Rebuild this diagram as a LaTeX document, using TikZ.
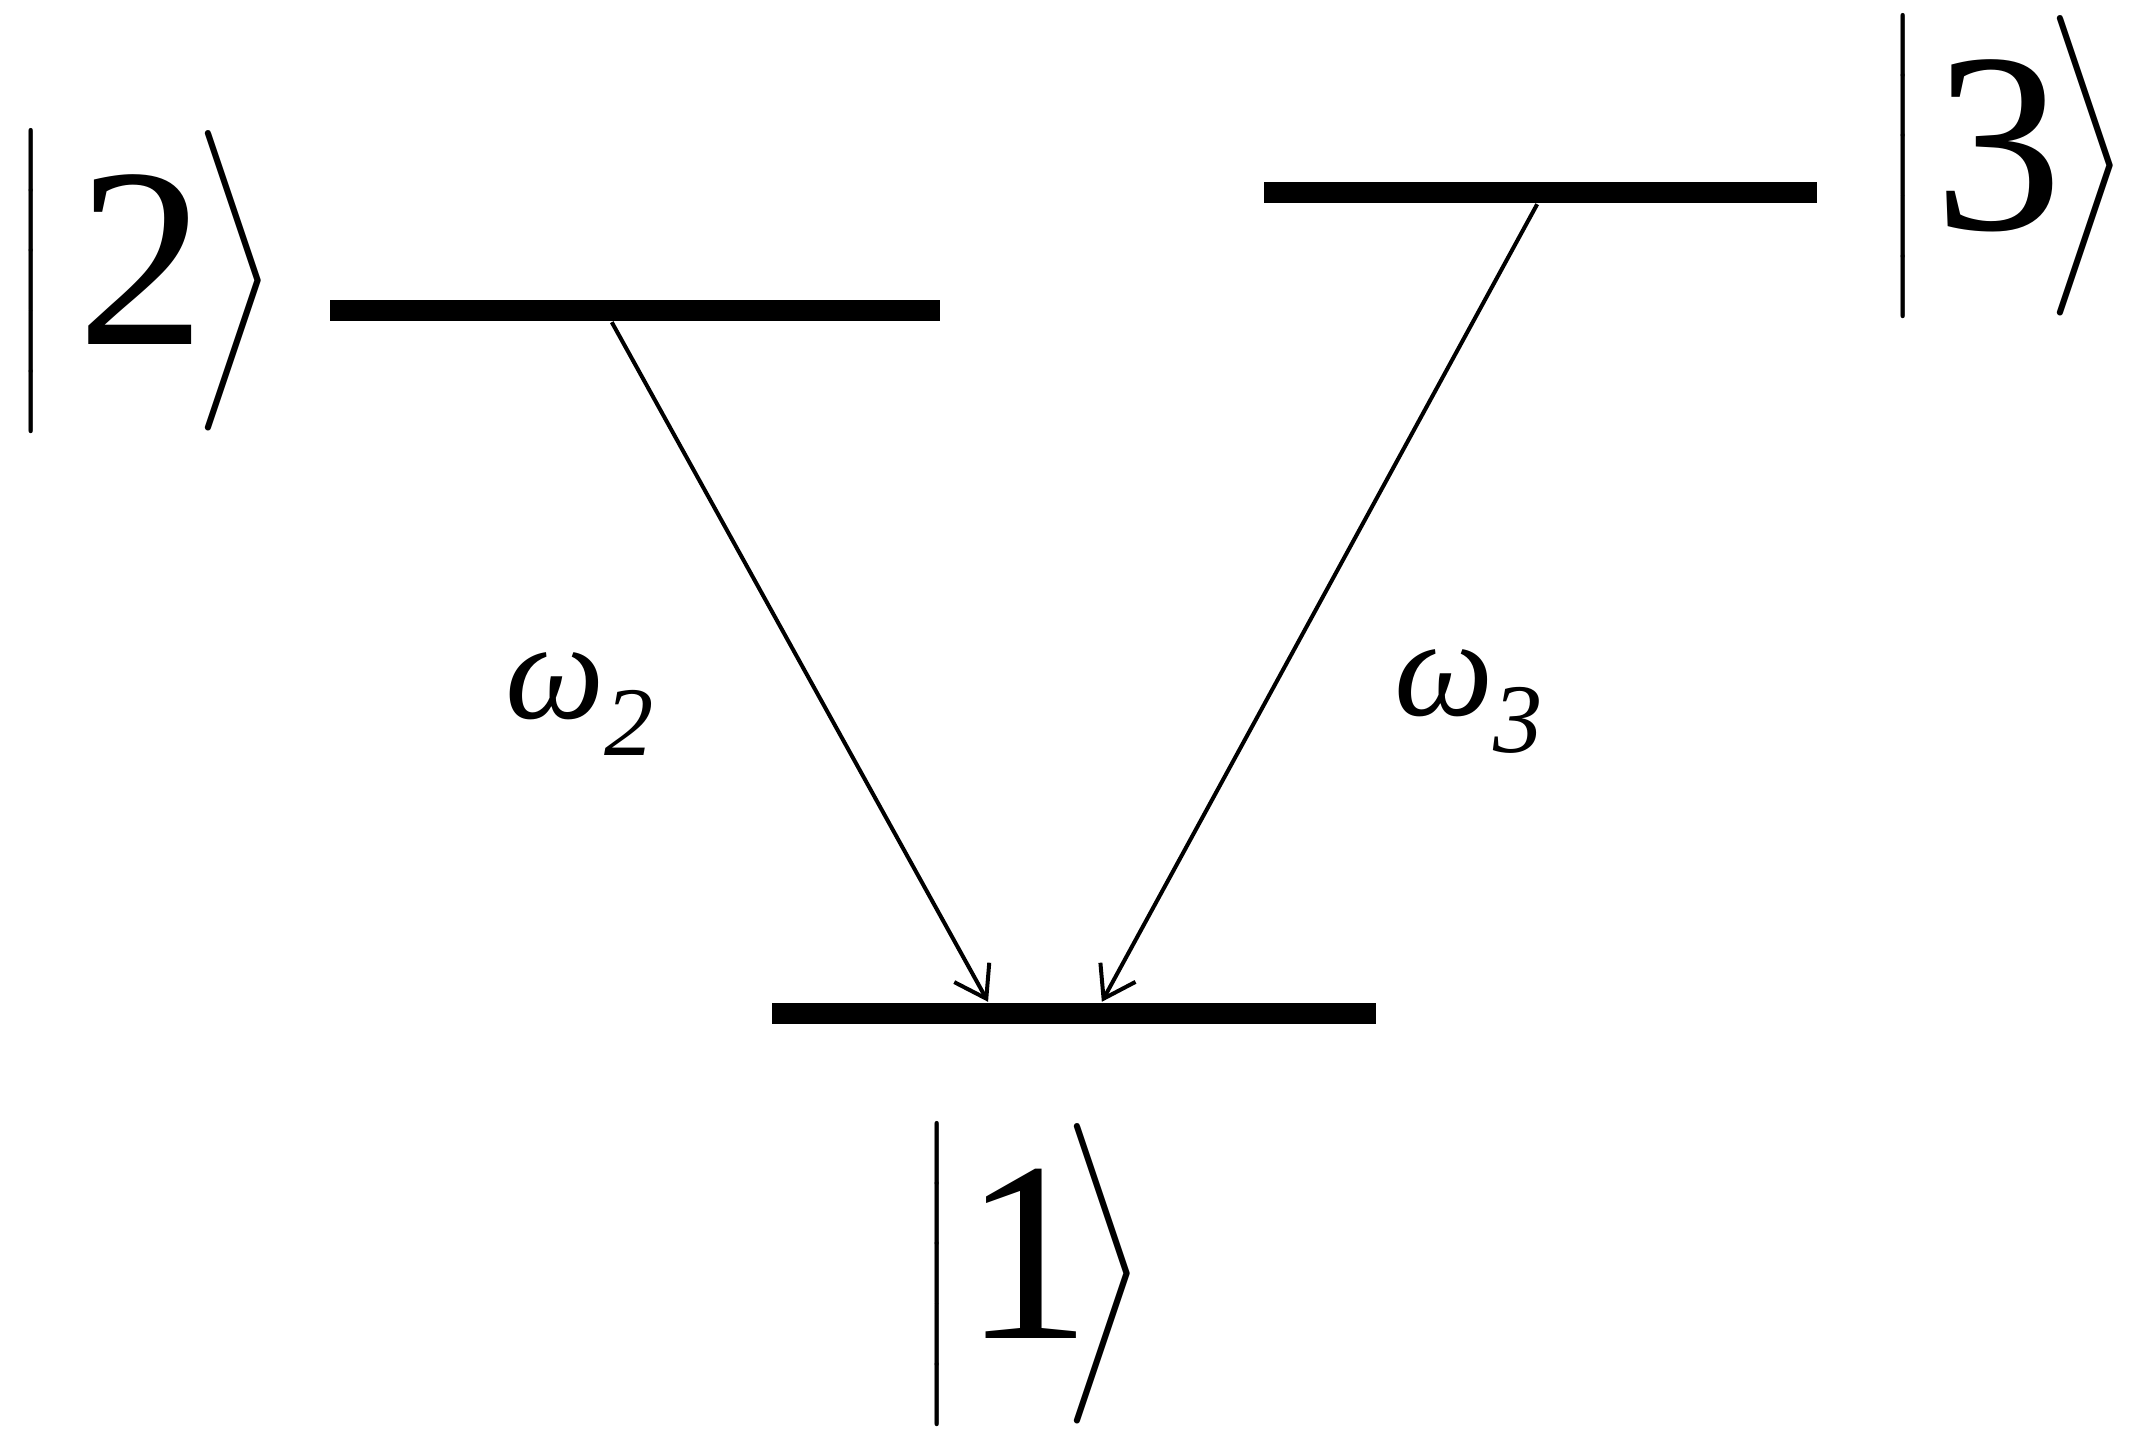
\RequirePackage{fix-cm}
\documentclass[tikz,border=0pt]{standalone}
\usepackage{fontspec}
\setmainfont{Liberation Serif}
\DeclareFontShape{OMX}{cmex}{m}{n}{<->cmex10}{}
\usepackage{tikz}
\usetikzlibrary{arrows.meta,calc}

\tikzset{
  level/.style={fill=black, inner sep=0pt, minimum height=0.21cm},
  ket/.style={font=\fontsize{73}{80}\selectfont, inner sep=0pt, anchor=base west},
  freq/.style={font=\fontsize{40}{46}\selectfont\itshape, inner sep=0pt, anchor=base west},
  decay/.style={-{Straight Barb[length=0.30cm,width=0.40cm]}, line width=0.04cm}
}
% |#2> with gaps #1 and #3 round the number
\newcommand{\ketlabel}[3]{%
  \raisebox{0.39cm}{\fontsize{28.5}{30}\selectfont$\left|\vcenter to 2.81cm{}\right.$}%
  \hspace{#1}#2\hspace{#3}%
  \raisebox{0.39cm}{\fontsize{28.5}{30}\selectfont$\left.\vcenter to 2.81cm{}\right\rangle$}}

\begin{document}
\begin{tikzpicture}
\useasboundingbox (0,0) rectangle (21.35,14.42);

% Levels
\node[level, minimum width=6.10cm] (lev2) at (6.35,11.31) {};
\node[level, minimum width=5.53cm] (lev3) at (15.405,12.49) {};
\node[level, minimum width=6.04cm] (lev1) at (10.74,4.29) {};

% Kets
\node[ket] (k2) at (0.14,10.97) {\ketlabel{0.25cm}{2}{-0.15cm}};
\node[ket] (k3) at (18.86,12.12) {\ketlabel{0.10cm}{3}{-0.20cm}};
\node[ket] (k1) at (9.20,1.04) {\ketlabel{0.05cm}{1}{-0.32cm}};

% Transitions
\draw[decay] ($(lev2.south west)!0.462!(lev2.south east)$) -- ($(lev1.north west)!0.358!(lev1.north east)$);
\draw[decay] ($(lev3.south west)!0.494!(lev3.south east)$) -- ($(lev1.north west)!0.546!(lev1.north east)$);

% Frequencies
\node[freq] (w2) at (5.05,7.24) {ω\raisebox{-0.27em}{\fontsize{28}{30}\selectfont 2}};
\node[freq] (w3) at (13.94,7.27) {ω\raisebox{-0.27em}{\fontsize{28}{30}\selectfont 3}};
\end{tikzpicture}
\end{document}
